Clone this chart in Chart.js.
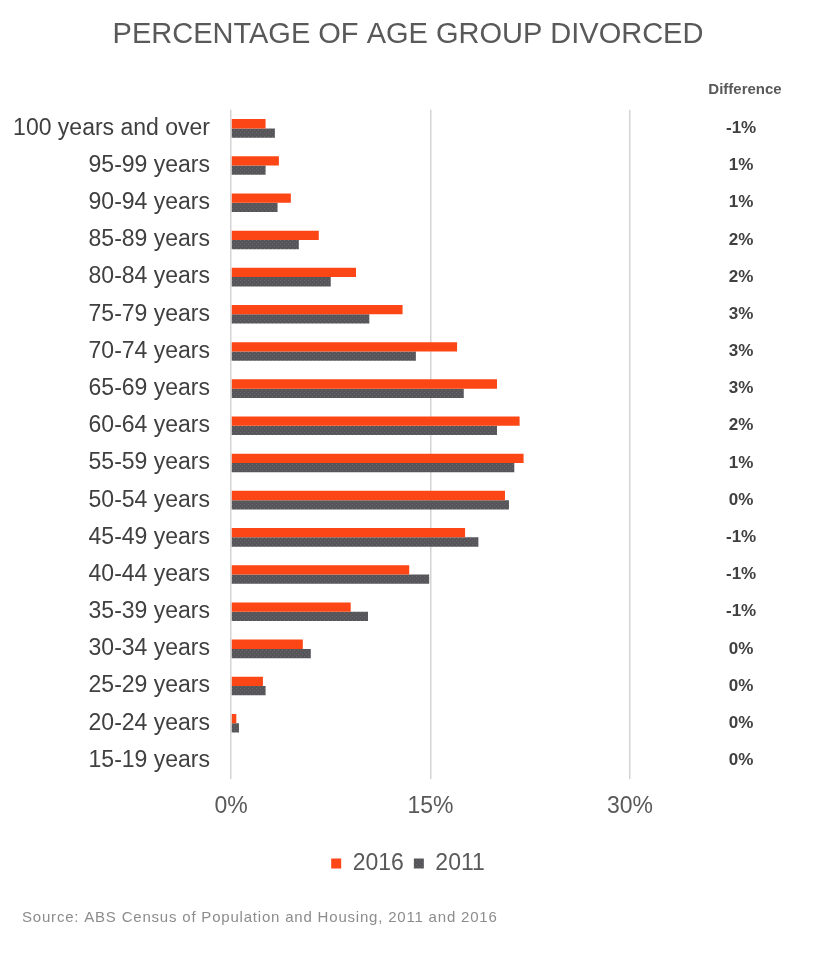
<!DOCTYPE html>
<html>
<head>
<meta charset="utf-8">
<script src="https://cdn.jsdelivr.net/npm/chart.js@4"></script>
<style>
  body { margin: 0; background: #fff; }
  #wrap { position: relative; width: 816px; height: 969px; }
</style>
</head>
<body>
<div id="wrap"><canvas id="divorceChart"></canvas></div>
<script>
const ageGroups = ['100 years and over', '95-99 years', '90-94 years', '85-89 years', '80-84 years',
  '75-79 years', '70-74 years', '65-69 years', '60-64 years', '55-59 years', '50-54 years',
  '45-49 years', '40-44 years', '35-39 years', '30-34 years', '25-29 years', '20-24 years', '15-19 years'];
const pct2016 = [2.6, 3.6, 4.5, 6.6, 9.4, 12.9, 17.0, 20.0, 21.7, 22.0, 20.6, 17.6, 13.4, 9.0, 5.4, 2.4, 0.4, 0];
const pct2011 = [3.3, 2.6, 3.5, 5.1, 7.5, 10.4, 13.9, 17.5, 20.0, 21.3, 20.9, 18.6, 14.9, 10.3, 6.0, 2.6, 0.6, 0];
const difference = ['-1', '1', '1', '2', '2', '3', '3', '3', '2', '1', '0', '-1', '-1', '-1', '0', '0', '0', '0'];
const xTicks = [0, 15, 30];

const font = 'Arial, "Liberation Sans", sans-serif';

// dotted dark grey fill like the original
function dottedGrey() {
  const c = document.createElement('canvas');
  c.width = 4; c.height = 4;
  const g = c.getContext('2d');
  g.fillStyle = '#56565a';
  g.fillRect(0, 0, 4, 4);
  g.fillStyle = '#6a6a6d';
  g.fillRect(0, 0, 1, 1);
  g.fillRect(2, 2, 1, 1);
  return g.createPattern(c, 'repeat');
}
const greyFill = dottedGrey();

// column header and source line
const extras = {
  id: 'extras',
  afterDraw(chart) {
    const ctx = chart.ctx;
    ctx.save();
    ctx.textAlign = 'center';
    ctx.textBaseline = 'middle';
    ctx.fillStyle = '#595959';
    ctx.font = 'bold 15px ' + font;
    ctx.fillText('Difference', 745, 90);
    ctx.textAlign = 'left';
    ctx.fillStyle = '#8c8c8c';
    ctx.font = '15px ' + font;
    ctx.letterSpacing = '0.8px';
    ctx.fillText('Source: ABS Census of Population and Housing, 2011 and 2016', 22, 918);
    ctx.restore();
  }
};

const ctx = document.getElementById('divorceChart').getContext('2d');
const divorceChart = new Chart(ctx, {
  type: 'bar',
  data: {
    labels: ageGroups,
    datasets: [{
      label: '2016',
      data: pct2016,
      backgroundColor: '#fd4615',
      borderWidth: 0
    }, {
      label: '2011',
      data: pct2011,
      backgroundColor: greyFill,
      borderWidth: 0
    }]
  },
  options: {
    indexAxis: 'y',
    responsive: true,
    maintainAspectRatio: false,
    animation: false,
    datasets: {
      bar: { categoryPercentage: 0.5, barPercentage: 1.0 }
    },
    layout: {
      padding: { top: 0, right: 0, bottom: 84, left: 0 }
    },
    scales: {
      x: {
        min: 0,
        max: 30,
        afterBuildTicks: (axis) => { axis.ticks = xTicks.map(v => ({ value: v })); },
        afterFit: (axis) => { axis.height = 63; },
        ticks: {
          callback: (v) => v + '%',
          color: '#595959',
          font: { family: font, size: 23 },
          padding: 14
        },
        grid: { color: '#d4d4d4', lineWidth: 1.5, drawTicks: false },
        border: { display: false }
      },
      y: {
        afterFit: (axis) => { axis.width = 231; },
        ticks: {
          color: '#404040',
          font: { family: font, size: 23 },
          padding: 21
        },
        grid: { display: false, drawTicks: false },
        border: { display: false }
      },
      diff: {
        type: 'category',
        axis: 'y',
        position: 'right',
        labels: difference.map(d => d + '%'),
        afterFit: (axis) => { axis.width = 186; },
        ticks: {
          color: '#404040',
          font: { family: font, size: 17, weight: 'bold' },
          crossAlign: 'center',
          padding: 96
        },
        grid: { display: false, drawTicks: false },
        border: { display: false }
      }
    },
    plugins: {
      title: {
        display: true,
        text: 'PERCENTAGE OF AGE GROUP DIVORCED',
        color: '#595959',
        font: { family: font, size: 29, weight: 'normal' },
        padding: { top: 18, bottom: 57 }
      },
      legend: {
        position: 'bottom',
        labels: {
          boxWidth: 10,
          boxHeight: 10,
          color: '#595959',
          font: { family: font, size: 23 },
          padding: 10
        }
      },
      tooltip: { enabled: false }
    }
  },
  plugins: [extras]
});
</script>
</body>
</html>
